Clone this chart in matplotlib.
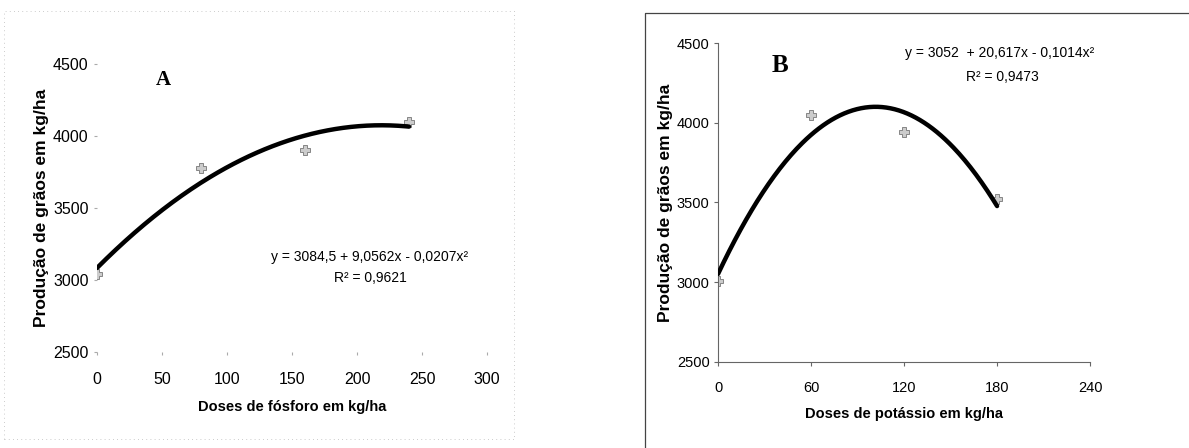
import numpy as np
import matplotlib.pyplot as plt
from matplotlib.lines import Line2D

plt.rcParams['font.family'] = ['Liberation Sans', 'DejaVu Sans']

# Panel A: phosphorus doses
dose_p = [0, 80, 160, 240]
yield_p = [3040, 3780, 3900, 4100]
coef_p = [3084.5, 9.0562, -0.0207]
xticks_p = [0, 50, 100, 150, 200, 250, 300]

# Panel B: potassium doses
dose_k = [0, 60, 120, 180]
yield_k = [3010, 4050, 3940, 3520]
coef_k = [3052, 20.617, -0.1014]
xticks_k = [0, 60, 120, 180, 240]

yticks = [2500, 3000, 3500, 4000, 4500]

fig = plt.figure(figsize=(11.89, 4.48), dpi=100)

# outer frames
fig.add_artist(Line2D([0.003, 0.003, 0.432, 0.432, 0.003], [0.02, 0.975, 0.975, 0.02, 0.02],
                      transform=fig.transFigure, color='#bbbbbb', lw=0.6, ls=(0, (1, 4))))
fig.add_artist(Line2D([0.5425, 0.5425, 0.999], [0.0, 0.972, 0.972],
                      transform=fig.transFigure, color='#444444', lw=0.9))


def quad(c, x):
    return c[0] + c[1] * x + c[2] * x ** 2


# --- A ---
axA = fig.add_axes([0.0816, 0.214, 0.328, 0.643])
xs = np.linspace(0, 240, 200)
axA.plot(xs, quad(coef_p, xs), color='black', lw=3.2, solid_capstyle='round', zorder=3)
axA.plot(dose_p, yield_p, ls='none', marker='P', ms=6.5, mfc='#cccccc', mec='#777777', mew=0.6, zorder=2)
axA.set_xlim(0, 300)
axA.set_ylim(2500, 4500)
axA.set_xticks(xticks_p)
axA.set_yticks(yticks)
for s in axA.spines.values():
    s.set_visible(False)
axA.tick_params(length=2, color='#aaaaaa', labelsize=11.5, pad=12)
axA.tick_params(axis='y', pad=4)
axA.set_xlabel('Doses de fósforo em kg/ha', fontsize=10.5, fontweight='bold', labelpad=10)
axA.set_ylabel('Produção de grãos em kg/ha', fontsize=12.5, fontweight='bold', labelpad=3)
axA.text(0.17, 0.944, 'A', transform=axA.transAxes, fontsize=15, fontweight='bold',
         family='Liberation Serif', ha='center', va='center')
axA.text(0.70, 0.33, 'y = 3084,5 + 9,0562x - 0,0207x²', transform=axA.transAxes,
         fontsize=10, ha='center', va='center')
axA.text(0.70, 0.257, 'R² = 0,9621', transform=axA.transAxes,
         fontsize=10, ha='center', va='center')

# --- B ---
axB = fig.add_axes([0.6039, 0.192, 0.3129, 0.712])
xs = np.linspace(0, 180, 200)
axB.plot(xs, quad(coef_k, xs), color='black', lw=3.2, solid_capstyle='round', zorder=3)
axB.plot(dose_k, yield_k, ls='none', marker='P', ms=6.5, mfc='#cccccc', mec='#777777', mew=0.6, zorder=2)
axB.set_xlim(0, 240)
axB.set_ylim(2500, 4500)
axB.set_xticks(xticks_k)
axB.set_yticks(yticks)
axB.spines['top'].set_visible(False)
axB.spines['right'].set_visible(False)
axB.spines['left'].set_color('#666666')
axB.spines['bottom'].set_color('#666666')
axB.spines['left'].set_linewidth(0.8)
axB.spines['bottom'].set_linewidth(0.8)
axB.tick_params(length=3, color='#666666', labelsize=10.5, pad=11)
axB.tick_params(axis='y', pad=3)
axB.set_xlabel('Doses de potássio em kg/ha', fontsize=10.5, fontweight='bold', labelpad=8)
axB.set_ylabel('Produção de grãos em kg/ha', fontsize=12.5, fontweight='bold', labelpad=3)
axB.text(0.167, 0.93, 'B', transform=axB.transAxes, fontsize=18, fontweight='bold',
         family='Liberation Serif', ha='center', va='center')
axB.text(0.758, 0.969, 'y = 3052  + 20,617x - 0,1014x²', transform=axB.transAxes,
         fontsize=10, ha='center', va='center')
axB.text(0.765, 0.893, 'R² = 0,9473', transform=axB.transAxes,
         fontsize=10, ha='center', va='center')

fig.savefig('out.png', dpi=100, facecolor='white')
